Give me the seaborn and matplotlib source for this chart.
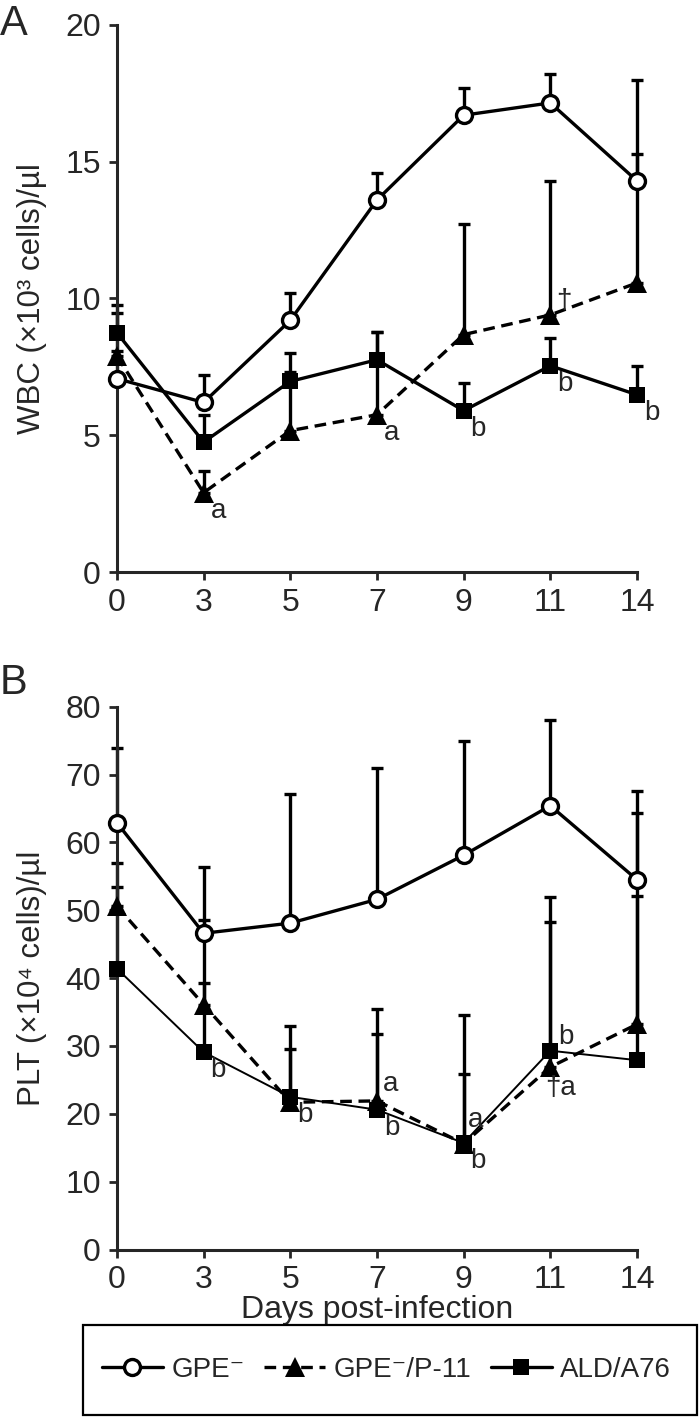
import numpy as np
import pandas as pd
import matplotlib
matplotlib.use('Agg')
import matplotlib.pyplot as plt
import seaborn as sns
from matplotlib.lines import Line2D
from matplotlib.patches import Rectangle

sns.set_style('ticks')
plt.rcParams['font.family'] = ['Liberation Sans', 'DejaVu Sans']

# days post-infection (categorical, equally spaced)
days = ['0', '3', '5', '7', '9', '11', '14']

# Panel A - WBC (x10^3 cells/ul), mean and upper SD
wbc_gpe = [7.07, 6.2, 9.2, 13.6, 16.7, 17.15, 14.3]
wbc_gpe_sd = [1.0, 1.0, 1.0, 1.0, 1.0, 1.05, 1.0]
wbc_p11 = [7.9, 2.9, 5.17, 5.75, 8.68, 9.4, 10.57]
wbc_p11_sd = [1.57, 0.78, 2.16, 3.03, 4.06, 4.9, 7.43]
wbc_ald = [8.75, 4.75, 6.97, 7.76, 5.9, 7.54, 6.48]
wbc_ald_sd = [1.02, 1.0, 1.03, 1.02, 1.0, 1.01, 1.04]

# Panel B - PLT (x10^4 cells/ul)
plt_gpe = [62.9, 46.6, 48.1, 51.6, 58.1, 65.4, 54.5]
plt_gpe_sd = [11.0, 9.8, 19.0, 19.4, 16.8, 12.7, 13.0]
plt_p11 = [50.6, 36.1, 21.7, 21.9, 15.6, 26.9, 33.2]
plt_p11_sd = [6.4, 12.4, 7.8, 13.5, 10.2, 21.4, 31.2]
plt_ald = [41.4, 29.1, 22.5, 20.6, 15.7, 29.3, 27.9]
plt_ald_sd = [12.0, 10.2, 10.4, 11.1, 18.9, 22.6, 24.2]

labels = ['GPE\u207b', 'GPE\u207b/P-11', 'ALD/A76']

# significance marks: (series, day index, text)
marks_a = [('p11', 1, 'a'), ('p11', 3, 'a'), ('ald', 4, 'b'),
           ('ald', 5, 'b'), ('ald', 6, 'b'), ('p11', 5, '\u2020')]
marks_b = [('ald', 1, 'b'), ('ald', 2, 'b'), ('p11', 3, 'a'), ('ald', 3, 'b'),
           ('p11', 4, 'a'), ('ald', 4, 'b'), ('ald', 5, 'b'), ('p11', 5, '\u2020a')]

styles = {
    'gpe': dict(marker='o', linestyle='-', markerfacecolor='white', markeredgewidth=2.4, markersize=11.5),
    'p11': dict(marker='^', linestyle=(0, (3.5, 2)), markerfacecolor='black', markeredgewidth=0, markersize=14),
    'ald': dict(marker='s', linestyle='-', markerfacecolor='black', markeredgewidth=0, markersize=12),
}

fig = plt.figure(figsize=(7, 14.17), dpi=100)
axA = fig.add_axes([0.167, 0.5963, 0.743, 0.3861])
axB = fig.add_axes([0.167, 0.1182, 0.743, 0.3831])

x = np.arange(len(days))


def draw_panel(ax, series, ymax, ystep, ylabel, marks, ald_lw, is_b):
    order = ['ald', 'p11', 'gpe']
    for key in order:
        y, sd = series[key]
        eb = ax.errorbar(x, y, yerr=[np.zeros(len(sd)), sd], fmt='none', ecolor='black',
                         elinewidth=2.4, capsize=4.5, capthick=2.4, zorder=2)
        for c in list(eb[1]) + list(eb[2]):
            c.set_clip_on(False)
    for key in order:
        y, sd = series[key]
        df = pd.DataFrame({'x': x, 'y': y})
        lw = ald_lw if key == 'ald' else 2.4
        sns.lineplot(data=df, x='x', y='y', ax=ax, color='black', linewidth=lw,
                     markeredgecolor='black', clip_on=False, zorder=3, **styles[key])
    for key, i, txt in marks:
        y = series[key][0][i]
        if txt == '\u2020':
            off = (4, 10)
        elif txt == '\u2020a':
            off = (-4, -15)
        elif key == 'p11' and is_b:
            off = (4, 12) if i == 3 else (3, 17)
        elif key == 'ald' and is_b and i == 5:
            off = (6, 10)
        else:
            off = (5, -13)
        ax.annotate(txt, (x[i], y), xytext=off, textcoords='offset points',
                    fontsize=20, ha='left', va='center')
    ax.set_xlim(0, len(days) - 1)
    ax.set_ylim(0, ymax)
    ax.set_xticks(x)
    ax.set_xticklabels(days)
    ax.set_yticks(np.arange(0, ymax + 1, ystep))
    ax.set_xlabel('')
    ax.set_ylabel(ylabel, fontsize=22.5, labelpad=13)
    ax.tick_params(axis='both', labelsize=23, width=2, length=5.5, direction='out', pad=6)
    sns.despine(ax=ax)
    for s in ['left', 'bottom']:
        ax.spines[s].set_linewidth(2.2)


draw_panel(axA, {'gpe': (wbc_gpe, wbc_gpe_sd), 'p11': (wbc_p11, wbc_p11_sd), 'ald': (wbc_ald, wbc_ald_sd)},
           20, 5, 'WBC (\u00d710\u00b3 cells)/\u00b5l', marks_a, 2.4, False)
draw_panel(axB, {'gpe': (plt_gpe, plt_gpe_sd), 'p11': (plt_p11, plt_p11_sd), 'ald': (plt_ald, plt_ald_sd)},
           80, 10, 'PLT (\u00d710\u2074 cells)/\u00b5l', marks_b, 1.4, True)
axB.set_xlabel('Days post-infection', fontsize=23, labelpad=0)

fig.text(0.0, 0.997, 'A', fontsize=30, va='top', ha='left')
fig.text(0.0, 0.532, 'B', fontsize=30, va='top', ha='left')

# legend box
fig.patches.append(Rectangle((0.1186, 0.0016), 0.8774, 0.0633, transform=fig.transFigure,
                             fill=False, edgecolor='black', linewidth=1.6))
handles = []
for key in ['gpe', 'p11', 'ald']:
    handles.append(Line2D([], [], color='black', linewidth=2.4, markeredgecolor='black', **styles[key]))
fig.legend(handles, labels, ncol=3, loc='center', bbox_to_anchor=(0.552, 0.0333),
           fontsize=20, frameon=False, handlelength=2.2, handletextpad=0.3, columnspacing=0.7)

fig.savefig('out.png', dpi=100)
